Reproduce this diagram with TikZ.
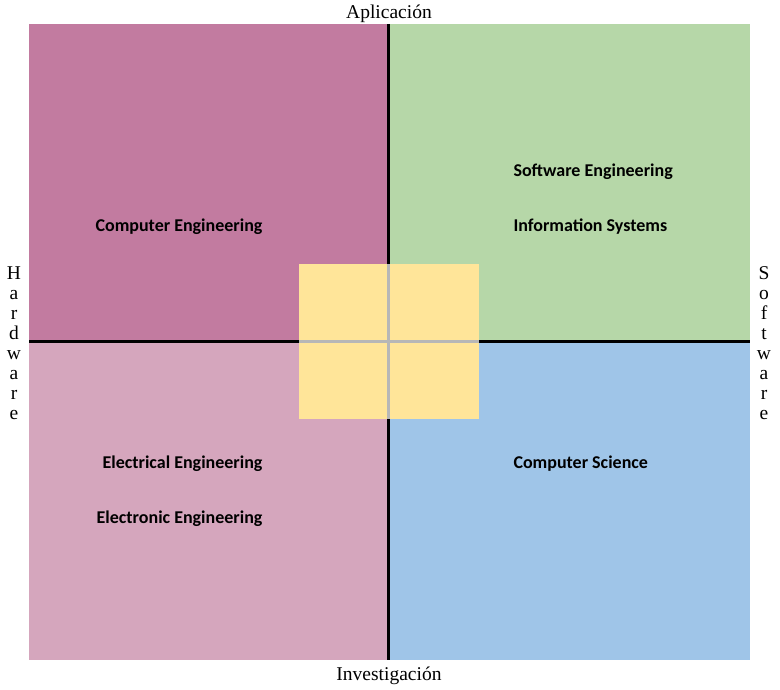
\documentclass[tikz,border=0pt]{standalone}
\usepackage{fontspec}
\setmainfont{Liberation Serif}
\newfontfamily\labelfont{Carlito}
\definecolor{hwapp}{HTML}{C27BA0}
\definecolor{hwres}{HTML}{D5A6BD}
\definecolor{swapp}{HTML}{B6D7A8}
\definecolor{swres}{HTML}{9FC5E8}
\definecolor{centre}{HTML}{FFE599}
\definecolor{centreline}{HTML}{B7B7B7}
\begin{document}
\begin{tikzpicture}[x=1pt,y=-1pt,
  field/.style={font=\labelfont\bfseries\fontsize{18}{21}\selectfont},
  axis/.style={font=\fontsize{19.5}{22}\selectfont},
  side/.style={font=\fontsize{19.5}{20}\selectfont,align=center}]
 \useasboundingbox (0,0) rectangle (780,690);
 % quadrants
 \fill[hwapp] (29,24) rectangle (388,341);
 \fill[swapp] (388,24) rectangle (750,341);
 \fill[hwres] (29,341) rectangle (388,660);
 \fill[swres] (388,341) rectangle (750,660);
 \draw[line width=3] (388,24) -- (388,660);
 \draw[line width=3] (29,341) -- (750,341);
 % centre
 \fill[centre] (299,264) rectangle (479,419);
 \draw[centreline,line width=3] (388,264) -- (388,419);
 \draw[centreline,line width=3] (299,341) -- (479,341);
 % axis names
 \node[axis] (app) at (389,14) {Aplicación};
 \node[axis] (res) at (389,676) {Investigación};
 \node[side] (hw) at (14,343) {H\\a\\r\\d\\w\\a\\r\\e};
 \node[side] (sw) at (764,343) {S\\o\\f\\t\\w\\a\\r\\e};
 % fields
 \node[field,anchor=east] (ce) at (266,227) {Computer Engineering};
 \node[field,anchor=west] (se) at (510,172) {Software Engineering};
 \node[field,anchor=west] (is) at (510,227) {Information Systems};
 \node[field,anchor=east] (ee) at (266,464) {Electrical Engineering};
 \node[field,anchor=east] (ele) at (266,519) {Electronic Engineering};
 \node[field,anchor=west] (cs) at (510,464) {Computer Science};
\end{tikzpicture}
\end{document}
